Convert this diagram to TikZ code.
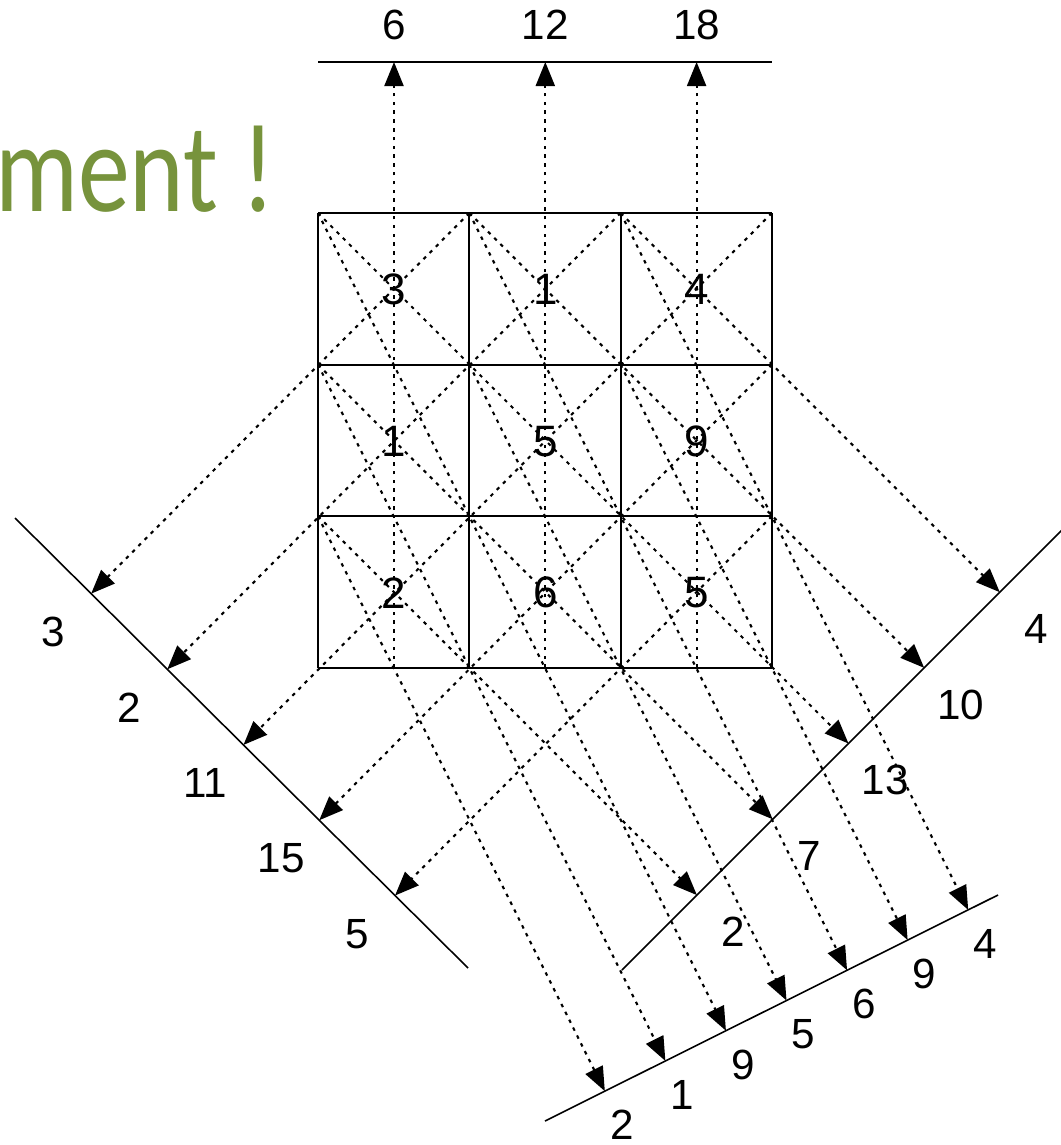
\documentclass[tikz,border=0pt]{standalone}
\usepackage{graphicx}
\usepackage{fontspec}
\setsansfont{Liberation Sans}
\newfontfamily\slidefont{Carlito}
\usepackage{tikz}
\usetikzlibrary{calc,arrows.meta}
\definecolor{slideGreen}{HTML}{77933C}

\begin{document}
\begin{tikzpicture}[x=0.01cm,y=-0.01cm,
  gridline/.style={line width=0.6pt},
  projline/.style={line width=0.45pt},
  ray/.style={line width=0.6pt,dash pattern=on 1pt off 1.5pt,
              -{Triangle[length=2.4mm,width=1.9mm]}},
  cellnum/.style={font=\sffamily\fontsize{12.5}{12.5}\selectfont,inner sep=0pt},
  sumnum/.style={font=\sffamily\fontsize{12}{12}\selectfont,inner sep=0pt}]
  \useasboundingbox (0,0) rectangle (1061,1145);
  \clip (0,0) rectangle (1061,1145);
  % slide title, cut by the page edge
  \node[font=\slidefont\fontsize{36}{36}\selectfont,text=slideGreen,
        anchor=base east,inner sep=0pt] (title) at (276,211)
        {\scalebox{0.82}[1]{ment !}};
  % grid corners (column, row)
  \foreach \i in {0,...,3}
    \foreach \j in {0,...,3}
      \coordinate (g\i\j) at ({318+151.3*\i},{213+151.6*\j});
  \foreach \c in {0,1,2}
    \coordinate (m\c) at ({394+151.3*\c},667.8);
  % projection lines
  \coordinate (T1) at (318,62);   \coordinate (T2) at (772,62);
  \coordinate (L1) at (15,518);   \coordinate (L2) at (468,968);
  \coordinate (R1) at (622,970);  \coordinate (R2) at (1066,526);
  \coordinate (B1) at (545,1121); \coordinate (B2) at (998,895);
  \draw[projline] (T1) -- (T2);
  \draw[projline] (L1) -- (L2);
  \draw[projline] (R1) -- (R2);
  \draw[projline] (B1) -- (B2);
  % the 3x3 grid
  \foreach \i in {0,...,3} {
    \draw[gridline] (g\i0) -- (g\i3);
    \draw[gridline] (g0\i) -- (g3\i);
  }
  \foreach \c/\r/\v in {0/0/3,1/0/1,2/0/4,0/1/1,1/1/5,2/1/9,0/2/2,1/2/6,2/2/5}
    \node[cellnum] (n\c\r) at ({394+151.3*\c},{289.5+151.6*\r}) {\v};
  % columns, up
  \foreach \c/\lab in {0/6,1/12,2/18} {
    \draw[ray] (m\c) -- ($(T1)!(m\c)!(T2)$) coordinate (tt\c);
    \node[sumnum] (ts\c) at ($(tt\c)!-0.37cm!(m\c)$) {\lab};
  }
  % anti-diagonals, down left
  \foreach \s/\lab [count=\k] in {g10/3,g20/2,g30/11,g31/15,g32/5} {
    \draw[ray] (\s) -- ($(L1)!(\s)!(L2)$) coordinate (lt\k);
    \node[sumnum] (ls\k) at ($(lt\k)!-0.54cm!(\s)$) {\lab};
  }
  % diagonals, down right
  \foreach \s/\lab [count=\k] in {g20/4,g10/10,g00/13,g01/7,g02/2} {
    \draw[ray] (\s) -- ($(R1)!(\s)!(R2)$) coordinate (rt\k);
    \node[sumnum] (rs\k) at ($(rt\k)!-0.52cm!(\s)$) {\lab};
  }
  % knight-move lines, down to the bottom line
  \foreach \s/\lab [count=\k] in {g02/2,g01/1,g00/9,g11/5,g10/6,g21/9,g20/4} {
    \draw[ray] (\s) -- ($(B1)!(\s)!(B2)$) coordinate (bt\k);
    \node[sumnum] (bs\k) at ($(bt\k)!-0.38cm!(\s)$) {\lab};
  }
\end{tikzpicture}
\end{document}
